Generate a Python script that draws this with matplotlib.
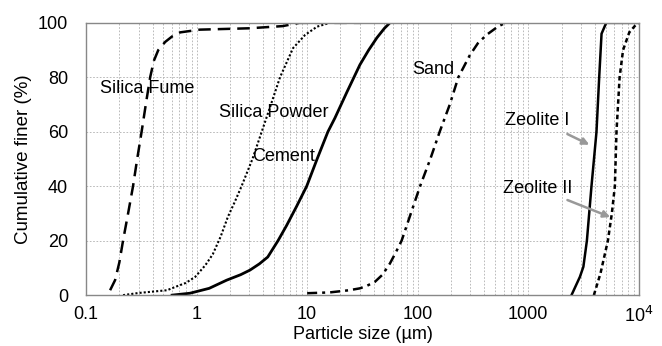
import numpy as np
import matplotlib.pyplot as plt

plt.rcParams['font.family'] = ['Liberation Sans', 'DejaVu Sans']

# curvas granulometricas
fume_x = [0.165, 0.183, 0.2, 0.216, 0.24, 0.266, 0.29, 0.318, 0.35, 0.38, 0.41, 0.45, 0.52, 0.6, 0.71, 1.07, 3, 6, 8.5, 30]
fume_y = [1.8, 5.5, 12, 20, 30, 40, 50, 60, 71, 80, 86, 90, 93, 95, 96.5, 97.5, 98, 98.8, 100, 100]

powder_x = [0.216, 0.3, 0.54, 0.64, 0.8, 0.97, 1.2, 1.4, 1.65, 1.92, 2.2, 2.55, 3.2, 3.88, 4.7, 5.68, 7.45, 9.6, 12.3, 16, 22]
powder_y = [0, 0.8, 1.8, 3, 4.5, 6.7, 11, 15, 21.5, 28.8, 34, 40, 50, 60, 70, 80, 90.7, 95.6, 98.6, 100, 100]

cement_x = [0.6, 0.87, 1.3, 1.87, 2.5, 3.04, 3.7, 4.4, 5.45, 6.5, 8, 9.9, 12.3, 15.4, 17.8, 22.9, 30, 36, 42.7, 50, 56]
cement_y = [0, 0.7, 2.5, 5.5, 7.5, 9.2, 11.5, 14, 20, 25.5, 32.5, 40, 50, 60, 65, 74.6, 84.6, 90, 94.5, 98, 100]

sand_x = [10, 16, 24, 30, 35, 41, 48, 56, 63, 71.5, 85, 105, 130, 158, 195, 233, 295, 350, 420, 530, 620]
sand_y = [0.7, 1.0, 1.8, 2.5, 3.5, 4.9, 7.5, 11.6, 15.5, 20, 29, 40, 50, 60, 70, 80, 88, 92.5, 95.6, 98.6, 100]

zeo1_x = [2460, 2930, 3150, 3390, 3730, 4140, 4380, 4600, 5070, 10000]
zeo1_y = [0, 6.7, 10.4, 20, 40, 60, 80, 96, 100, 100]

zeo2_x = [3920, 4500, 5250, 5700, 6070, 6280, 6700, 7200, 8200, 9500, 10000]
zeo2_y = [0, 8, 20, 30, 40, 60, 80, 90, 96.5, 99.5, 100]

fig = plt.figure(figsize=(6.62, 3.46), dpi=100)
ax = fig.add_axes([0.130, 0.147, 0.835, 0.787])

ax.plot(fume_x, fume_y, color='black', lw=1.8, dashes=(5, 2.8))
ax.plot(powder_x, powder_y, color='black', lw=1.5, dashes=(1, 1))
ax.plot(cement_x, cement_y, color='black', lw=2.0)
ax.plot(sand_x, sand_y, color='black', lw=1.8, dashes=(4, 2, 1.2, 2))
ax.plot(zeo1_x, zeo1_y, color='black', lw=1.8)
ax.plot(zeo2_x, zeo2_y, color='black', lw=1.8, dashes=(1.8, 1.3))

ax.set_xscale('log')
ax.set_xlim(0.1, 10000)
ax.set_ylim(0, 100)
ax.set_xticks([0.1, 1, 10, 100, 1000, 10000])
ax.set_xticklabels(['0.1', '1', '10', '100', '1000', r'10$^4$'])
ax.set_yticks([0, 20, 40, 60, 80, 100])
ax.tick_params(axis='both', which='both', length=0, labelsize=13)
ax.tick_params(axis='x', pad=8)
ax.tick_params(axis='y', pad=13)

ax.grid(True, which='both', axis='x', color='#b0b0b0', lw=0.6, ls=(0, (2, 2)))
ax.grid(True, which='major', axis='y', color='#b0b0b0', lw=0.6, ls=(0, (2, 2)))
for s in ax.spines.values():
    s.set_color('#888888')
    s.set_linewidth(1.0)

ax.set_xlabel('Particle size (µm)', fontsize=13, labelpad=0)
ax.set_ylabel('Cumulative finer (%)', fontsize=13.5, labelpad=4)

ax.text(0.134, 76, 'Silica Fume', fontsize=13, va='center')
ax.text(1.6, 67, 'Silica Powder', fontsize=13, va='center')
ax.text(3.17, 51, 'Cement', fontsize=13, va='center')
ax.text(90, 83, 'Sand', fontsize=13, va='center')
ax.text(614, 64, 'Zeolite I', fontsize=13, va='center')
ax.text(590, 39, 'Zeolite II', fontsize=13, va='center')

ax.annotate('', xy=(3760, 54.8), xytext=(2143, 59.6),
            arrowprops=dict(arrowstyle='-|>', color='#999999', lw=1.8, mutation_scale=10))
ax.annotate('', xy=(5820, 28.3), xytext=(2143, 35.3),
            arrowprops=dict(arrowstyle='-|>', color='#999999', lw=1.8, mutation_scale=10))

plt.savefig('out.png', dpi=100)
